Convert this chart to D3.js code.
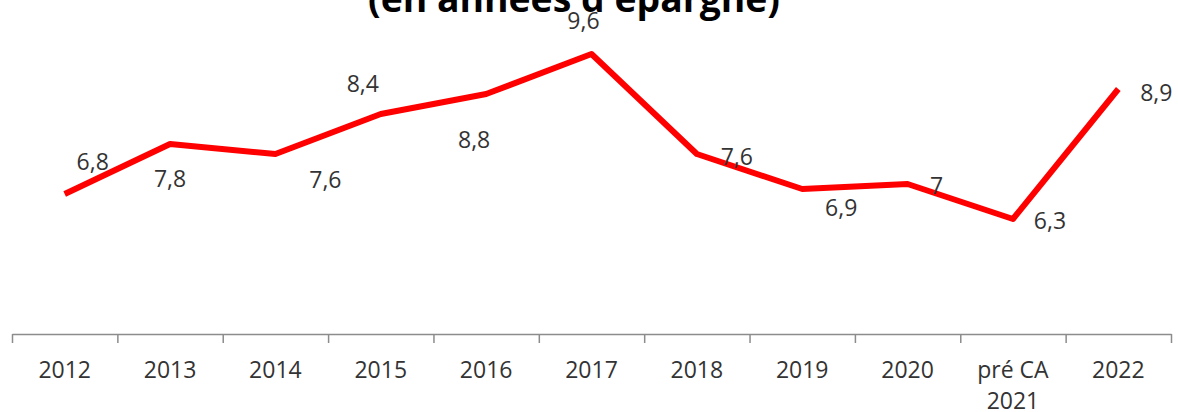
<!DOCTYPE html>
<html lang="fr">
<head>
<meta charset="utf-8">
<script src="https://cdn.jsdelivr.net/npm/d3@7"></script>
<style>
  html, body { margin: 0; padding: 0; background: #fff; }
  svg { display: block; }
</style>
</head>
<body>
<svg id="chart" width="1178" height="412"></svg>
<script>
// Capacité de désendettement, en années d'épargne
const categories = ["2012", "2013", "2014", "2015", "2016", "2017", "2018", "2019", "2020", "pré CA\n2021", "2022"];
const values = [6.8, 7.8, 7.6, 8.4, 8.8, 9.6, 7.6, 6.9, 7, 6.3, 8.9];
const yDomain = [4, 10];
const titleText = "(en années d'épargne)";

// Where each value label sits relative to its point (dx, dy in px)
const labelOffsets = [
  [28, -32], [0, 35], [50, 26], [-18, -30], [-12, 46], [-8, -33],
  [40, 3], [39, 19], [29, 2], [37, 2], [38, 4]
];

(function draw() {
  const svg = d3.select("#chart");
  const plotLeft = 12, plotRight = 1171, plotTop = 34, plotBottom = 334;

  const x = d3.scaleBand().domain(categories).range([plotLeft, plotRight]).padding(0);
  const xEdge = d3.scaleLinear().domain([0, categories.length]).range([plotLeft, plotRight]);
  const y = d3.scaleLinear().domain(yDomain).range([plotBottom, plotTop]);
  const cx = c => x(c) + x.bandwidth() / 2;

  const fr = d3.formatLocale({ decimal: ",", thousands: " ", grouping: [3], currency: ["", " €"] });
  const fmt = fr.format("~g");

  // Title (its second line shows at the top edge)
  const title = svg.append("text")
    .attr("x", 574).attr("y", 12)
    .attr("text-anchor", "middle")
    .style("font-family", "'Open Sans', sans-serif")
    .style("font-weight", 700)
    .style("font-size", "30px")
    .attr("fill", "#000")
    .text(titleText);
  const tw = title.node().getComputedTextLength();
  title.style("font-size", (30 * 412 / tw) + "px");

  // Category axis with ticks on band boundaries
  const axis = d3.axisBottom(xEdge)
    .tickValues(d3.range(categories.length + 1))
    .tickSize(9)
    .tickSizeOuter(0)
    .tickFormat("");
  const gAxis = svg.append("g").attr("transform", `translate(0,${plotBottom})`).call(axis);
  gAxis.select(".domain").attr("stroke", "#8c8c8c").attr("stroke-width", 1.5);
  gAxis.selectAll(".tick line").attr("stroke", "#8c8c8c").attr("stroke-width", 1.5);

  const catLabels = svg.append("g")
    .style("font-family", "'Open Sans', sans-serif")
    .style("font-size", "23px")
    .attr("fill", "#333");
  categories.forEach(c => {
    const t = catLabels.append("text")
      .attr("x", cx(c))
      .attr("y", 378)
      .attr("text-anchor", "middle");
    c.split("\n").forEach((line, i) => {
      t.append("tspan").attr("x", cx(c)).attr("dy", i === 0 ? 0 : 31).text(line);
    });
  });

  // Series line
  const line = d3.line()
    .x((d, i) => cx(categories[i]))
    .y(d => y(d));
  svg.append("path")
    .datum(values)
    .attr("d", line)
    .attr("fill", "none")
    .attr("stroke", "#ff0000")
    .attr("stroke-width", 6)
    .attr("stroke-linejoin", "round")
    .attr("stroke-linecap", "butt");

  // Value labels
  svg.append("g")
    .style("font-family", "'Open Sans', sans-serif")
    .style("font-size", "23px")
    .attr("fill", "#333")
    .selectAll("text")
    .data(values)
    .join("text")
    .attr("x", (d, i) => cx(categories[i]) + labelOffsets[i][0])
    .attr("y", (d, i) => y(d) + labelOffsets[i][1] + 8)
    .attr("text-anchor", "middle")
    .text(d => fmt(d));
})();
</script>
</body>
</html>
